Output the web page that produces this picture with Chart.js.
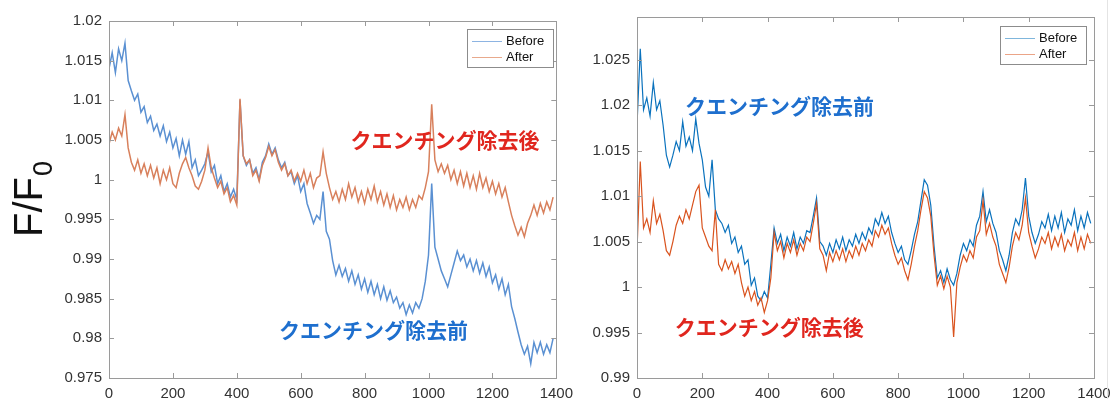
<!DOCTYPE html>
<html>
<head>
<meta charset="utf-8">
<script src="https://cdn.jsdelivr.net/npm/chart.js@4.4.0/dist/chart.umd.min.js"></script>
<style>
  body { margin: 0; background: #fff; width: 1118px; height: 399px; overflow: hidden; position: relative; }
  canvas { position: absolute; top: 0; }
  #c1 { left: 0; }
  #c2 { left: 580px; }
  #edge { position: absolute; left: 1107px; top: 0; width: 1px; height: 399px; background: #e4e4e4; }
</style>
</head>
<body>
<canvas id="c1" width="580" height="399"></canvas>
<canvas id="c2" width="538" height="399"></canvas>
<div id="edge"></div>
<script>
// sample times (s)
const time = [0,10,20,30,40,50,60,70,80,90,100,110,120,130,140,150,160,170,180,190,
  200,210,220,230,240,250,260,270,280,290,300,310,320,330,340,350,360,370,380,390,
  400,410,420,430,440,450,460,470,480,490,500,510,520,530,540,550,560,570,580,590,
  600,610,620,630,640,650,660,670,680,690,700,710,720,730,740,750,760,770,780,790,
  800,810,820,830,840,850,860,870,880,890,900,910,920,930,940,950,960,970,980,990,
  1000,1010,1020,1030,1040,1050,1060,1070,1080,1090,1100,1110,1120,1130,1140,1150,1160,1170,1180,1190,
  1200,1210,1220,1230,1240,1250,1260,1270,1280,1290,1300,1310,1320,1330,1340,1350,1360,1370,1380,1390];

// left panel
const leftBefore = [1.0140,1.0160,1.0135,1.0165,1.0150,1.0172,1.0125,1.0112,1.0100,1.0108,
  1.0085,1.0092,1.0072,1.0080,1.0062,1.0070,1.0055,1.0068,1.0048,1.0060,
  1.0040,1.0052,1.0030,1.0050,1.0032,1.0048,1.0015,1.0025,1.0005,1.0012,
  1.0020,1.0035,1.0010,1.0018,0.9995,1.0005,0.9985,0.9995,0.9978,0.9988,
  0.9975,1.0100,1.0030,1.0018,1.0025,1.0008,1.0015,1.0000,1.0022,1.0030,
  1.0045,1.0032,1.0040,1.0025,1.0015,1.0022,1.0005,1.0010,0.9995,1.0005,
  0.9985,0.9995,0.9970,0.9958,0.9945,0.9955,0.9950,0.9985,0.9935,0.9925,
  0.9898,0.9880,0.9892,0.9878,0.9888,0.9872,0.9885,0.9868,0.9880,0.9862,
  0.9875,0.9858,0.9872,0.9855,0.9868,0.9850,0.9865,0.9848,0.9860,0.9845,
  0.9852,0.9838,0.9845,0.9830,0.9842,0.9832,0.9845,0.9838,0.9850,0.9872,
  0.9905,0.9995,0.9915,0.9900,0.9885,0.9875,0.9865,0.9880,0.9895,0.9910,
  0.9898,0.9905,0.9890,0.9900,0.9885,0.9898,0.9882,0.9895,0.9878,0.9890,
  0.9870,0.9880,0.9862,0.9875,0.9855,0.9868,0.9840,0.9825,0.9808,0.9792,
  0.9780,0.9790,0.9768,0.9795,0.9782,0.9795,0.9780,0.9792,0.9782,0.9800];
const leftAfter = [1.0045,1.0060,1.0050,1.0065,1.0055,1.0082,1.0040,1.0022,1.0012,1.0025,
  1.0008,1.0020,1.0005,1.0018,1.0002,1.0015,0.9995,1.0012,1.0000,1.0015,
  0.9995,0.9990,1.0008,1.0020,1.0028,1.0015,1.0005,0.9992,0.9988,0.9998,
  1.0012,1.0040,1.0015,1.0002,0.9990,0.9998,0.9982,0.9990,0.9972,0.9980,
  0.9968,1.0102,1.0030,1.0020,1.0025,1.0005,1.0012,0.9998,1.0018,1.0028,
  1.0042,1.0030,1.0038,1.0022,1.0012,1.0020,1.0005,1.0012,0.9998,1.0008,
  0.9998,1.0012,0.9995,1.0008,0.9990,1.0002,1.0005,1.0035,1.0008,0.9990,
  0.9975,0.9985,0.9972,0.9988,0.9975,0.9995,0.9978,0.9990,0.9972,0.9985,
  0.9970,0.9988,0.9975,0.9992,0.9972,0.9985,0.9968,0.9982,0.9965,0.9980,
  0.9962,0.9975,0.9965,0.9978,0.9962,0.9975,0.9965,0.9980,0.9975,0.9990,
  1.0010,1.0095,1.0025,1.0010,1.0020,1.0008,1.0018,1.0000,1.0012,0.9995,
  1.0010,0.9992,1.0008,0.9990,1.0005,0.9988,1.0008,0.9990,1.0002,0.9985,
  0.9998,0.9982,0.9995,0.9978,0.9990,0.9972,0.9955,0.9942,0.9930,0.9940,
  0.9928,0.9945,0.9955,0.9968,0.9955,0.9970,0.9958,0.9972,0.9962,0.9978];

// right panel
const rightBefore = [1.0178,1.0262,1.0195,1.0208,1.0188,1.0225,1.0195,1.0205,1.0178,1.0145,
  1.0132,1.0145,1.0160,1.0150,1.0182,1.0155,1.0165,1.0150,1.0185,1.0158,
  1.0140,1.0110,1.0100,1.0140,1.0085,1.0075,1.0070,1.0060,1.0068,1.0048,
  1.0055,1.0038,1.0045,1.0025,1.0030,1.0002,1.0010,0.9990,0.9985,0.9995,
  0.9988,1.0025,1.0065,1.0048,1.0058,1.0040,1.0055,1.0045,1.0060,1.0042,
  1.0055,1.0048,1.0062,1.0060,1.0078,1.0098,1.0050,1.0045,1.0035,1.0048,
  1.0038,1.0052,1.0042,1.0055,1.0040,1.0052,1.0045,1.0058,1.0048,1.0060,
  1.0052,1.0065,1.0058,1.0075,1.0068,1.0082,1.0070,1.0078,1.0060,1.0048,
  1.0038,1.0045,1.0030,1.0025,1.0040,1.0058,1.0072,1.0095,1.0118,1.0112,
  1.0090,1.0045,1.0010,1.0018,1.0005,1.0020,1.0008,1.0002,1.0015,1.0035,
  1.0048,1.0040,1.0052,1.0045,1.0068,1.0078,1.0105,1.0072,1.0085,1.0070,
  1.0060,1.0040,1.0030,1.0018,1.0035,1.0060,1.0075,1.0068,1.0085,1.0120,
  1.0078,1.0060,1.0048,1.0058,1.0072,1.0065,1.0080,1.0062,1.0078,1.0065,
  1.0082,1.0060,1.0075,1.0068,1.0085,1.0062,1.0078,1.0065,1.0082,1.0070];
const rightAfter = [1.0040,1.0138,1.0065,1.0075,1.0060,1.0095,1.0070,1.0080,1.0062,1.0040,
  1.0035,1.0050,1.0068,1.0078,1.0070,1.0085,1.0075,1.0090,1.0105,1.0112,
  1.0065,1.0055,1.0045,1.0040,1.0085,1.0025,1.0018,1.0030,1.0020,1.0028,
  1.0015,1.0025,1.0005,0.9990,1.0000,0.9985,0.9995,0.9980,0.9988,0.9972,
  0.9985,1.0010,1.0060,1.0040,1.0050,1.0032,1.0048,1.0038,1.0052,1.0035,
  1.0048,1.0040,1.0055,1.0050,1.0070,1.0092,1.0042,1.0035,1.0018,1.0038,
  1.0028,1.0040,1.0030,1.0042,1.0028,1.0040,1.0032,1.0045,1.0035,1.0048,
  1.0040,1.0052,1.0045,1.0062,1.0055,1.0068,1.0058,1.0065,1.0048,1.0035,
  1.0025,1.0032,1.0018,1.0008,1.0025,1.0045,1.0062,1.0085,1.0105,1.0098,
  1.0078,1.0035,1.0002,1.0012,0.9998,1.0012,1.0000,0.9945,1.0005,1.0022,
  1.0035,1.0028,1.0040,1.0032,1.0055,1.0062,1.0095,1.0058,1.0070,1.0055,
  1.0045,1.0025,1.0015,1.0005,1.0022,1.0045,1.0060,1.0052,1.0068,1.0098,
  1.0060,1.0045,1.0032,1.0042,1.0055,1.0048,1.0060,1.0042,1.0055,1.0045,
  1.0058,1.0040,1.0052,1.0045,1.0060,1.0040,1.0055,1.0042,1.0058,1.0048];

const xTicks = [0,200,400,600,800,1000,1200,1400];
const labelBefore = 'クエンチング除去前';
const labelAfter = 'クエンチング除去後';

const tickFont = { family: '"Liberation Sans", Arial, sans-serif', size: 15 };

function fmt(v) { return String(Number(v.toFixed(3))); }

const framePlugin = {
  id: 'frame',
  afterDatasetsDraw(chart, args, o) {
    const ctx = chart.ctx, a = chart.chartArea;
    const xs = chart.scales.x, ys = chart.scales.y;
    ctx.save();
    ctx.strokeStyle = '#9a9a9a';
    ctx.lineWidth = 1;
    ctx.strokeRect(Math.round(a.left) + 0.5, Math.round(a.top) + 0.5, Math.round(a.right - a.left), Math.round(a.bottom - a.top));
    ctx.beginPath();
    xs.ticks.forEach(t => {
      const p = Math.round(xs.getPixelForValue(t.value)) + 0.5;
      ctx.moveTo(p, a.bottom); ctx.lineTo(p, a.bottom - 5);
      ctx.moveTo(p, a.top); ctx.lineTo(p, a.top + 5);
    });
    ys.ticks.forEach(t => {
      const p = Math.round(ys.getPixelForValue(t.value)) + 0.5;
      ctx.moveTo(a.left, p); ctx.lineTo(a.left + 5, p);
      ctx.moveTo(a.right, p); ctx.lineTo(a.right - 5, p);
    });
    ctx.stroke();

    // legend box
    const L = o.legend;
    ctx.fillStyle = '#fff';
    ctx.fillRect(L.x, L.y, L.w, L.h);
    ctx.strokeStyle = '#8c8c8c';
    ctx.strokeRect(L.x + 0.5, L.y + 0.5, L.w, L.h);
    ctx.font = '13px "Liberation Sans", Arial, sans-serif';
    ctx.textBaseline = 'middle';
    ctx.fillStyle = '#111';
    [['Before', o.legendColors[0], L.y + 12], ['After', o.legendColors[1], L.y + 28]].forEach(([txt, col, yy]) => {
      ctx.strokeStyle = col;
      ctx.beginPath();
      ctx.moveTo(L.x + 5, yy + 0.5); ctx.lineTo(L.x + 35, yy + 0.5);
      ctx.stroke();
      ctx.fillText(txt, L.x + 39, yy);
    });

    // annotations
    ctx.font = 'bold 21px "Noto Sans CJK JP", sans-serif';
    o.notes.forEach(n => {
      ctx.fillStyle = n.color;
      ctx.fillText(n.text, xs.getPixelForValue(n.x), ys.getPixelForValue(n.y));
    });

    if (o.yTitle) {
      ctx.save();
      ctx.translate(42, 237);
      ctx.rotate(-Math.PI / 2);
      ctx.fillStyle = '#111';
      ctx.textBaseline = 'alphabetic';
      ctx.font = '40px "Liberation Sans", Arial, sans-serif';
      ctx.fillText('F/F', 0, 0);
      const w = ctx.measureText('F/F').width;
      ctx.font = '27px "Liberation Sans", Arial, sans-serif';
      ctx.fillText('0', w + 1, 10);
      ctx.restore();
    }
    ctx.restore();
  }
};

function makeChart(id, before, after, cfg) {
  const pts = arr => arr.map((v, i) => ({ x: time[i], y: v }));
  return new Chart(document.getElementById(id), {
    type: 'line',
    data: {
      datasets: [
        { label: 'Before', data: pts(before), borderColor: cfg.colors[0], borderWidth: cfg.lw, pointRadius: 0, tension: 0, order: 1 },
        { label: 'After', data: pts(after), borderColor: cfg.colors[1], borderWidth: cfg.lw, pointRadius: 0, tension: 0, order: 0 }
      ]
    },
    options: {
      responsive: false,
      animation: false,
      events: [],
      layout: { padding: { top: cfg.top, right: cfg.right, left: 0, bottom: 0 } },
      scales: {
        x: {
          type: 'linear', min: 0, max: 1400,
          afterBuildTicks: s => { s.ticks = xTicks.map(v => ({ value: v })); },
          afterFit: s => { s.height = 399 - 378; },
          grid: { display: false, drawTicks: false },
          border: { display: false },
          ticks: { font: tickFont, color: '#333', padding: 7, maxRotation: 0, autoSkip: false, callback: v => String(v) }
        },
        y: {
          min: cfg.ymin, max: cfg.ymax,
          afterFit: s => { s.width = cfg.yWidth; },
          grid: { display: false, drawTicks: false },
          border: { display: false },
          ticks: { stepSize: 0.005, includeBounds: false, font: tickFont, color: '#333', padding: 7, callback: v => fmt(v) }
        }
      },
      plugins: {
        legend: { display: false },
        tooltip: { enabled: false },
        frame: { legend: cfg.legend, legendColors: cfg.legendColors, notes: cfg.notes, yTitle: cfg.yTitle }
      }
    },
    plugins: [framePlugin]
  });
}

makeChart('c1', leftBefore, leftAfter, {
  colors: ['#5a90d2', '#d8805c'], lw: 1.5,
  legendColors: ['#8db4e2', '#e8a98c'],
  top: 21, right: 21, yWidth: 109, ymin: 0.975, ymax: 1.02,
  legend: { x: 467, y: 29, w: 86, h: 38 },
  notes: [
    { text: labelAfter, color: '#e0261e', x: 756, y: 1.005 },
    { text: labelBefore, color: '#1e6fce', x: 532, y: 0.9811 }
  ],
  yTitle: true
});

makeChart('c2', rightBefore, rightAfter, {
  colors: ['#0a72bd', '#d9531e'], lw: 1.2,
  legendColors: ['#7fb6dc', '#eba487'],
  top: 17, right: 24, yWidth: 57, ymin: 0.99, ymax: 1.0297,
  legend: { x: 420, y: 26, w: 86, h: 38 },
  notes: [
    { text: labelBefore, color: '#1e6fce', x: 147, y: 1.0199 },
    { text: labelAfter, color: '#e0261e', x: 116, y: 0.99563 }
  ],
  yTitle: false
});
</script>
</body>
</html>
